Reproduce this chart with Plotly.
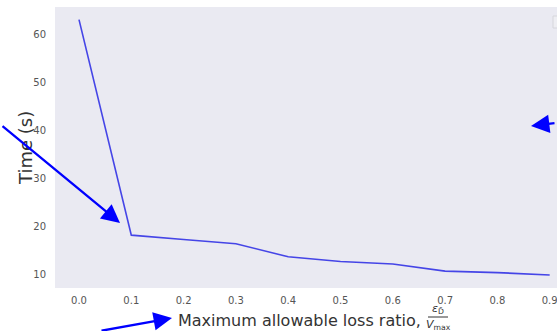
import plotly.graph_objects as go

# Loss ratio sweep and measured runtimes
loss_ratio = [0.0, 0.1, 0.2, 0.3, 0.4, 0.5, 0.6, 0.7, 0.8, 0.9]
time_s = [63.2, 18.3, 17.4, 16.5, 13.8, 12.8, 12.3, 10.8, 10.5, 10.0]

x_ticks = [0.0, 0.1, 0.2, 0.3, 0.4, 0.5, 0.6, 0.7, 0.8, 0.9]
x_tick_text = ["0.0", "0.1", "0.2", "0.3", "0.4", "0.5", "0.6", "0.7", "0.8", "0.9"]
y_ticks = [10, 20, 30, 40, 50, 60]
y_tick_text = ["10", "20", "30", "40", "50", "60"]

W, H = 557, 331
ML, MR, MT, MB = 55, 0, 7, 43
FONT = "DejaVu Sans"
ARROW = "#0000FF"

fig = go.Figure()
fig.add_trace(go.Scatter(
    x=loss_ratio, y=time_s, mode="lines",
    line=dict(color="rgba(60,60,230,0.95)", width=1.6),
    showlegend=False, hoverinfo="skip",
))

pw = W - ML - MR
ph = H - MT - MB


def px(xp):
    return (xp - ML) / pw


def py(yp):
    return (H - MB - yp) / ph


def pointer(tip_x, tip_y, tail_x, tail_y):
    return dict(x=px(tip_x), y=py(tip_y), xref="paper", yref="paper",
                ax=tail_x - tip_x, ay=tail_y - tip_y, text="",
                showarrow=True, arrowhead=2, arrowsize=1.6, arrowwidth=2.3,
                arrowcolor=ARROW)


annotations = [
    # axis titles
    dict(text="Time (s)", textangle=-90, x=px(25), y=py(148), xref="paper", yref="paper",
         showarrow=False, font=dict(family=FONT, size=18, color="#333333"),
         xanchor="center", yanchor="middle"),
    dict(text="Maximum allowable loss ratio,", x=px(176), y=py(320), xref="paper", yref="paper",
         showarrow=False, font=dict(family=FONT, size=16, color="#333333"),
         xanchor="left", yanchor="middle"),
    dict(text="<i>ε</i><sub>D̄</sub>", x=px(438), y=py(309), xref="paper", yref="paper",
         showarrow=False, font=dict(family=FONT, size=11, color="#333333"),
         xanchor="center", yanchor="middle"),
    dict(text="<i>V</i><sub>max</sub>", x=px(438), y=py(325), xref="paper", yref="paper",
         showarrow=False, font=dict(family=FONT, size=11, color="#333333"),
         xanchor="center", yanchor="middle"),
    # pointer arrows
    pointer(120, 223, 1, 125),
    pointer(172, 318, 100, 333),
    pointer(531, 126, 556, 123),
]

shapes = [
    # fraction bar
    dict(type="line", xref="paper", yref="paper", x0=px(428), x1=px(448), y0=py(317), y1=py(317),
         line=dict(color="#333333", width=1)),
    # legend frame edge
    dict(type="rect", xref="paper", yref="paper", x0=px(553), x1=px(560), y0=py(28), y1=py(16),
         line=dict(color="#D6D6DC", width=1), fillcolor="#EEEEF3"),
]

fig.update_layout(
    width=W, height=H,
    margin=dict(l=ML, r=MR, t=MT, b=MB, pad=0),
    paper_bgcolor="white", plot_bgcolor="#EAEAF2",
    font=dict(family=FONT, size=10, color="#555555"),
    annotations=annotations, shapes=shapes,
    xaxis=dict(range=[-0.0459, 0.914], tickvals=x_ticks, ticktext=x_tick_text,
               showgrid=False, zeroline=False, showline=False, ticks="",
               ticklabelstandoff=5, ticklabeloverflow="allow",
               tickfont=dict(size=10, color="#555555")),
    yaxis=dict(range=[7.29, 65.83], tickvals=y_ticks, ticktext=y_tick_text,
               showgrid=False, zeroline=False, showline=False, ticks="",
               ticklabelstandoff=8, tickfont=dict(size=10, color="#555555")),
)

fig.write_html("out.html")
